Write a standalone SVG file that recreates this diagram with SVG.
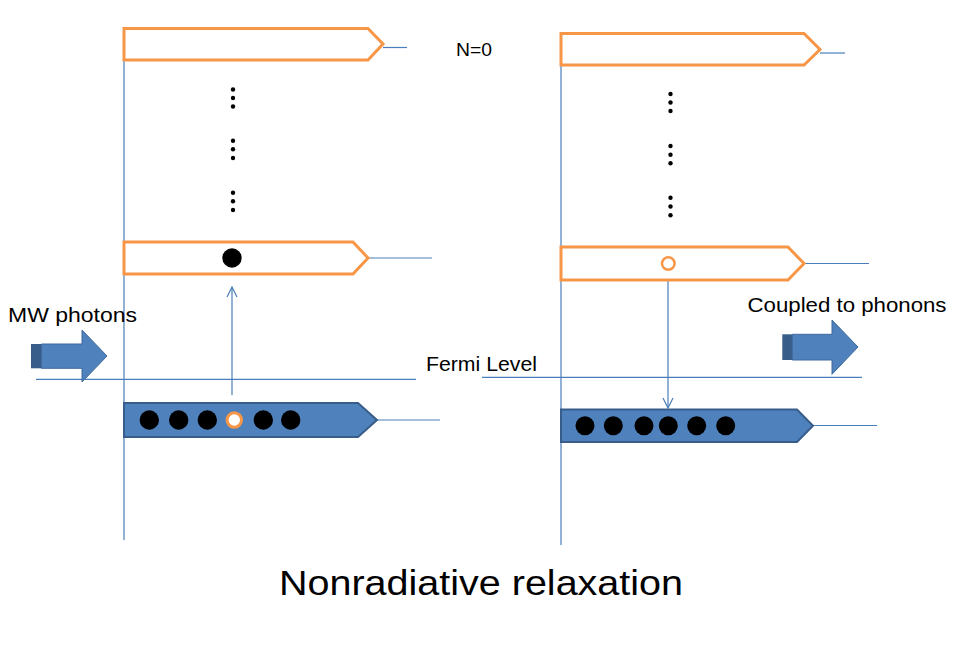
<svg xmlns="http://www.w3.org/2000/svg" width="956" height="659" viewBox="0 0 956 659">
<defs>
<style>
.lvl{fill:#fff;stroke:#F79646;stroke-width:3;stroke-linejoin:miter}
.band{fill:#4F81BD;stroke:#385D8A;stroke-width:2}
.ln{stroke:#4A7EBB;stroke-width:1.2;fill:none}
.dot{fill:#000}
.sd{fill:#000}
.hole{fill:#fff;stroke:#F79646}
.txt{font-family:"Liberation Sans",Arial,sans-serif;fill:#000}
.barrow{fill:#4F81BD;stroke:#3F6A9E;stroke-width:1}
.bside{fill:#385D8A}
</style>
<marker id="ah" viewBox="0 0 12 12" refX="11" refY="6" markerWidth="12" markerHeight="12" markerUnits="userSpaceOnUse" orient="auto">
<path d="M1,1 L11,6 L1,11" fill="none" stroke="#4A7EBB" stroke-width="1.2"/>
</marker>
</defs>
<rect width="956" height="659" fill="#fff"/>

<g id="connectors">
<line class="ln" x1="124" y1="60" x2="124" y2="540"/>
<line class="ln" x1="561" y1="65" x2="561" y2="545"/>
<line class="ln" x1="383" y1="47.5" x2="407" y2="47.5"/>
<line class="ln" x1="368" y1="258" x2="432" y2="258"/>
<line class="ln" x1="377" y1="420" x2="440" y2="420"/>
<line class="ln" x1="820" y1="53" x2="845" y2="53"/>
<line class="ln" x1="804" y1="263.5" x2="869" y2="263.5"/>
<line class="ln" x1="813" y1="425.5" x2="877" y2="425.5"/>
<line class="ln" x1="36" y1="379.3" x2="416" y2="379.3"/>
<line class="ln" x1="482" y1="377.3" x2="862" y2="377.3"/>
<line class="ln" x1="232" y1="395" x2="232" y2="287" marker-end="url(#ah)"/>
<line class="ln" x1="668" y1="280" x2="668" y2="408" marker-end="url(#ah)"/>
</g>

<g id="left-top-level">
<polygon class="lvl" points="124,28.5 368,28.5 383,44 368,60 124,60"/>
</g>
<g id="left-ellipsis">
<circle class="sd" cx="233" cy="89.5" r="2.2"/><circle class="sd" cx="233" cy="98" r="2.2"/><circle class="sd" cx="233" cy="106.5" r="2.2"/>
<circle class="sd" cx="233" cy="140.7" r="2.2"/><circle class="sd" cx="233" cy="149.3" r="2.2"/><circle class="sd" cx="233" cy="158" r="2.2"/>
<circle class="sd" cx="233" cy="192.7" r="2.2"/><circle class="sd" cx="233" cy="201.3" r="2.2"/><circle class="sd" cx="233" cy="210" r="2.2"/>
</g>
<g id="left-excited-level">
<polygon class="lvl" points="124,242 353,242 368,258 353,274 124,274"/>
<circle class="dot" cx="232" cy="258" r="9.7"/>
</g>
<g id="left-band">
<polygon class="band" points="124,403 358,403 377,420 358,437 124,437"/>
<circle class="dot" cx="149.3" cy="420" r="9.7"/>
<circle class="dot" cx="178.7" cy="420" r="9.7"/>
<circle class="dot" cx="207.3" cy="420" r="9.7"/>
<circle class="hole" cx="234.3" cy="420" r="7.2" stroke-width="3"/>
<circle class="dot" cx="263.3" cy="420" r="9.7"/>
<circle class="dot" cx="290.7" cy="420" r="9.7"/>
</g>
<g id="mw-arrow">
<rect class="bside" x="31" y="344" width="11" height="24.3"/>
<polygon class="barrow" points="41.5,344 82,344 82,330 107,356 82,382 82,368.3 41.5,368.3"/>
</g>

<g id="right-top-level">
<polygon class="lvl" points="561,33.5 804,33.5 820,49.5 804,65 561,65"/>
</g>
<g id="right-ellipsis">
<circle class="sd" cx="670.5" cy="94" r="2.2"/><circle class="sd" cx="670.5" cy="102.5" r="2.2"/><circle class="sd" cx="670.5" cy="111" r="2.2"/>
<circle class="sd" cx="670.5" cy="146" r="2.2"/><circle class="sd" cx="670.5" cy="154.7" r="2.2"/><circle class="sd" cx="670.5" cy="163.3" r="2.2"/>
<circle class="sd" cx="670.5" cy="197.7" r="2.2"/><circle class="sd" cx="670.5" cy="206.5" r="2.2"/><circle class="sd" cx="670.5" cy="215.3" r="2.2"/>
</g>
<g id="right-excited-level">
<polygon class="lvl" points="561,247 788,247 804,263.5 788,280 561,280"/>
<circle class="hole" cx="668.3" cy="263.5" r="6.3" stroke-width="2.5"/>
</g>
<g id="right-band">
<polygon class="band" points="561,409.5 797,409.5 813,425.7 797,442 561,442"/>
<circle class="dot" cx="585" cy="425.7" r="9.5"/>
<circle class="dot" cx="613.3" cy="425.7" r="9.5"/>
<circle class="dot" cx="644" cy="425.7" r="9.5"/>
<circle class="dot" cx="668.3" cy="425.7" r="9.5"/>
<circle class="dot" cx="696.7" cy="425.7" r="9.5"/>
<circle class="dot" cx="725.7" cy="425.7" r="9.5"/>
</g>
<g id="phonon-arrow">
<rect class="bside" x="782.3" y="334.3" width="10.5" height="25.7"/>
<polygon class="barrow" points="792.3,334.3 832,334.3 832,320 858,347 832,374.3 832,360 792.3,360"/>
</g>

<g id="labels">
<text class="txt" x="456" y="55.7" font-size="18.5" textLength="36" lengthAdjust="spacingAndGlyphs">N=0</text>
<text class="txt" x="8" y="322.3" font-size="20" textLength="129" lengthAdjust="spacingAndGlyphs">MW photons</text>
<text class="txt" x="426" y="370.7" font-size="20.5" textLength="111" lengthAdjust="spacingAndGlyphs">Fermi Level</text>
<text class="txt" x="747.5" y="311.7" font-size="21" textLength="199" lengthAdjust="spacingAndGlyphs">Coupled to phonons</text>
<text class="txt" x="279" y="595" font-size="35" textLength="404" lengthAdjust="spacingAndGlyphs">Nonradiative relaxation</text>
</g>
</svg>
